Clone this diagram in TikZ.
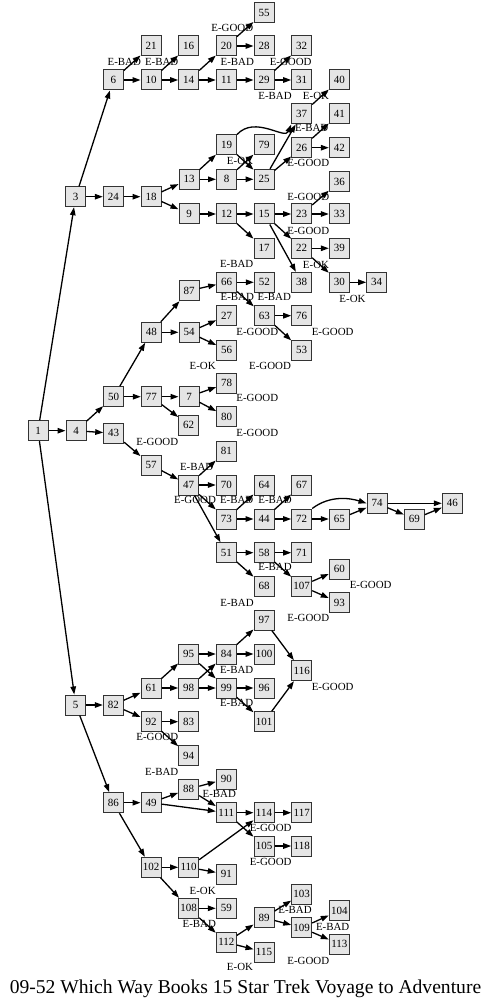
\documentclass[tikz,border=0pt]{standalone}
\usepackage{fontspec}
\setmainfont{Liberation Serif}
\usetikzlibrary{arrows.meta}
\begin{document}
\begin{tikzpicture}[x=1pt,y=-1pt,
 box/.style={draw=black!80,fill=black!10,minimum size=20pt,inner sep=0pt,line width=1pt,font=\fontsize{11}{12}\selectfont},
 lbl/.style={inner sep=0pt,font=\fontsize{10.9}{12}\selectfont},
 edge/.style={line width=1.3pt,-{Triangle[length=8pt,width=5.5pt]}}]
\useasboundingbox (0,0) rectangle (491,1000);
% nodes
\foreach \n/\x/\y in {
1/38/430.7, 3/75.7/196.7, 4/76/430.7, 5/75.7/705,
6/113.3/80, 24/113.3/196.7, 50/113.7/396.7, 43/113.7/433.3, 82/113.3/705, 86/113.3/802.7,
10/151/80, 21/151/46, 18/151/196.7, 48/151.3/332.3, 77/151.3/396.7, 57/151/465, 61/151/688, 92/151/721.7, 49/151/802.7, 102/151/867.3,
16/188.7/46, 14/188.7/80, 13/189/179.3, 9/189/214, 87/189/290.7, 54/189/332.3, 7/189/396.7, 62/188.7/425, 47/188.7/485, 95/188.7/654, 98/188.7/688, 83/188.7/721.7, 94/188.7/755.7, 88/188.7/789, 110/188.7/867.3, 108/188.7/908.3,
20/226.3/46, 11/226.3/80, 19/226.5/145, 8/226.5/179.3, 12/226.5/214, 66/226.7/282.3, 27/226.7/315.7, 56/226.7/350, 78/226.7/383.3, 80/226.7/416.7, 81/226.3/451, 70/226.3/485, 73/226.3/519, 51/226.3/552.7, 84/226.3/654, 99/226.3/688, 90/226.3/779, 111/226.3/812.7, 91/226.3/874.3, 59/226.3/908.3, 112/226.3/942.3,
55/264/12.7, 28/264/46, 29/264/80, 79/264/145, 25/264/179.3, 15/264/214, 17/264/248.3, 52/264.3/282.3, 63/264.3/315.7, 64/264/485, 44/264/519, 58/264/552.7, 68/264/586, 97/264/620, 100/264/654, 96/264/688, 101/264/721.7, 114/264/812.7, 105/264/846, 89/264/917.7, 115/264/952,
32/301.7/46, 31/301.7/80, 37/301.7/114, 26/301.7/147.7, 23/301.7/214, 22/301.7/248.3, 38/301.7/282.3, 76/301.7/315.7, 53/301.7/350, 67/301.7/485, 72/301.7/519, 71/301.7/552.7, 107/301.7/586, 116/301.7/670.7, 117/301.7/812.7, 118/301.7/846, 103/301.7/894, 109/301.7/927.7,
40/339.3/80, 41/339.3/114, 42/339.3/147.7, 36/339.3/181.7, 33/339.3/214, 39/339.3/248.3, 30/339.3/282.3, 65/339.3/519, 60/339.3/569.3, 93/339.3/602.7, 104/339.3/910.7, 113/339.3/944,
34/376.7/282.3, 74/377/503.3, 69/414.3/519, 46/452.3/503.3}
  \node[box] (n\n) at (\x,\y) {\n};
% edges
\foreach \a/\b in {1/3,1/4,1/5,3/6,3/24,6/10,6/21,10/14,10/16,14/20,14/11,20/28,20/55,11/29,29/31,29/32,
24/18,18/13,18/9,13/19,13/8,19/25,8/25,8/79,25/37,25/26,37/40,26/41,26/42,
9/12,12/15,12/17,15/23,15/22,15/38,23/36,23/33,22/39,22/30,30/34,
4/50,4/43,50/48,50/77,48/87,48/54,87/66,66/52,66/63,63/76,63/53,54/27,54/56,
77/7,77/62,7/78,7/80,43/57,57/47,47/81,47/70,47/73,47/51,73/64,73/44,44/67,44/72,
72/65,65/74,74/46,74/69,69/46,51/58,51/68,58/71,58/107,107/60,107/93,
5/82,5/86,82/61,82/92,61/95,61/98,95/84,95/99,98/84,98/99,84/97,84/100,99/96,99/101,
97/116,101/116,92/83,92/94,86/49,86/102,49/88,49/111,88/90,88/111,111/114,111/105,
114/117,105/118,102/110,102/108,110/114,110/91,108/59,108/112,112/89,112/115,
89/103,89/109,109/104,109/113}
  \draw[edge] (n\a) -- (n\b);
\draw[edge] (n19.north east) .. controls (255,115) and (285,140) .. (n37.south west);
\draw[edge] (n72.north east) .. controls (330,495) and (350,498) .. (n74.west);
% labels
\foreach \i/\t/\x/\y in {
a/E-GOOD/232.3/27.7, b/E-BAD/124.3/61.7, c/E-BAD/161.7/61.7, d/E-BAD/237.3/61.7, e/E-GOOD/290.7/61.7,
f/E-BAD/275/95.7, g/E-OK/316/95.7, h/E-BAD/311.7/128.3, i/E-OK/240/160.7, j/E-GOOD/308.3/163.3,
k/E-GOOD/308.3/197.3, l/E-GOOD/308.3/230.7, m/E-OK/316/265, n/E-BAD/236.7/264, o/E-BAD/237.3/296.7,
p/E-BAD/274.3/296.7, q/E-OK/352.5/298.8, r/E-GOOD/257.3/331.7, s/E-GOOD/332.7/331.7, t/E-OK/202.7/365.7,
u/E-GOOD/270/365.7, v/E-GOOD/257.3/398.3, w/E-GOOD/257.3/433.3, x/E-GOOD/157.3/441.7, y/E-BAD/196.7/466.7,
z/E-GOOD/195/500, A/E-BAD/236.7/500, B/E-BAD/275/500, C/E-BAD/275/567.3, D/E-GOOD/370.7/585,
E/E-BAD/237/602.5, F/E-GOOD/308.3/618.3, G/E-BAD/236.7/670, H/E-GOOD/332.7/686.7, I/E-BAD/236.7/703.3,
J/E-GOOD/157.3/737.3, K/E-BAD/161.7/771.5, L/E-BAD/219.3/794.2, M/E-GOOD/270.7/828.3, N/E-GOOD/270.7/862.3,
O/E-OK/202.7/891, P/E-BAD/295/910, Q/E-BAD/199.3/924, R/E-BAD/332.7/926.7, S/E-GOOD/308.3/960.7, T/E-OK/240/967.3}
  \node[lbl] (lab\i) at (\x,\y) {\t};
\node[inner sep=0pt,anchor=base,font=\fontsize{19.6}{22}\selectfont] (title) at (245.5,993.3) {09-52 Which Way Books 15 Star Trek Voyage to Adventure};
\end{tikzpicture}
\end{document}
